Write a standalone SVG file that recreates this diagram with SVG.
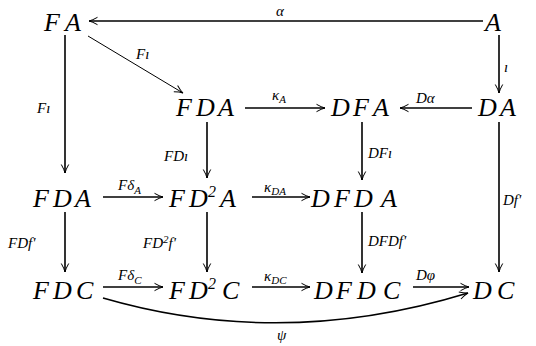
<svg xmlns="http://www.w3.org/2000/svg" width="536" height="346" viewBox="0 0 536 346">
<defs>
<marker id="ah" markerUnits="userSpaceOnUse" markerWidth="14" markerHeight="10" refX="10" refY="5" orient="auto" overflow="visible">
<path d="M1.5,1.3 Q6.5,4.2 10,5 Q6.5,5.8 1.5,8.7" fill="none" stroke="#000" stroke-width="1"/>
</marker>
</defs>
<rect width="536" height="346" fill="#fff"/>
<g id="n-FA"><text style="font-family:'Liberation Serif',serif !important;font-style:italic !important;font-size:26px" x="44 65" y="31">FA</text></g>
<g id="n-A"><text style="font-family:'Liberation Serif',serif !important;font-style:italic !important;font-size:26px" x="485" y="31">A</text></g>
<g id="n-FDA1"><text style="font-family:'Liberation Serif',serif !important;font-style:italic !important;font-size:26px" x="176 196 218" y="116">FDA</text></g>
<g id="n-DFA"><text style="font-family:'Liberation Serif',serif !important;font-style:italic !important;font-size:26px" x="331 353 373" y="116">DFA</text></g>
<g id="n-DA"><text style="font-family:'Liberation Serif',serif !important;font-style:italic !important;font-size:26px" x="478 500" y="116">DA</text></g>
<g id="n-FDA2"><text style="font-family:'Liberation Serif',serif !important;font-style:italic !important;font-size:26px" x="33 53 75" y="207">FDA</text></g>
<g id="n-FD2A"><text style="font-family:'Liberation Serif',serif !important;font-style:italic !important;font-size:26px" y="207"><tspan x="169 189">FD</tspan><tspan style="font-size:16px" x="208" y="197">2</tspan><tspan x="220" y="207">A</tspan></text></g>
<g id="n-DFDA"><text style="font-family:'Liberation Serif',serif !important;font-style:italic !important;font-size:26px" x="311 334 354 381" y="207">DFDA</text></g>
<g id="n-FDC"><text style="font-family:'Liberation Serif',serif !important;font-style:italic !important;font-size:26px" x="33 53 76" y="299">FDC</text></g>
<g id="n-FD2C"><text style="font-family:'Liberation Serif',serif !important;font-style:italic !important;font-size:26px" y="299"><tspan x="169 189">FD</tspan><tspan style="font-size:16px" x="208" y="289">2</tspan><tspan x="222" y="299">C</tspan></text></g>
<g id="n-DFDC"><text style="font-family:'Liberation Serif',serif !important;font-style:italic !important;font-size:26px" x="314 336 357 383" y="299">DFDC</text></g>
<g id="n-DC"><text style="font-family:'Liberation Serif',serif !important;font-style:italic !important;font-size:26px" x="473 497" y="299">DC</text></g>
<g id="connectors" fill="none" stroke="#000" stroke-width="1.6" marker-end="url(#ah)">
<path d="M483,21 L89,21"/>
<path stroke-width="1" d="M88,36 L183,93"/>
<path d="M499,35 L499,93"/>
<path d="M245,108 L325,108"/>
<path d="M472,108 L400,108"/>
<path d="M65,35 L65,173"/>
<path d="M207,122 L207,178"/>
<path d="M362,122 L362,180"/>
<path d="M499,122 L499,272"/>
<path d="M103,197 L163,197"/>
<path d="M252,197 L310,197"/>
<path d="M65,212 L65,272"/>
<path d="M207,212 L207,272"/>
<path d="M362,212 L362,273"/>
<path d="M103,287 L163,287"/>
<path d="M252,287 L310,287"/>
<path d="M413,287 L469,287"/>
<path d="M103,298 Q282,350 468,293"/>
</g>
<g id="labels">
<text style="font-family:'Liberation Serif',serif !important;font-style:italic !important;font-size:15px" x="276" y="16">α</text>
<text style="font-family:'Liberation Serif',serif !important;font-style:italic !important;font-size:15px" x="136" y="59">Fı</text>
<text style="font-family:'Liberation Serif',serif !important;font-style:italic !important;font-size:15px" x="504" y="72">ı</text>
<text style="font-family:'Liberation Serif',serif !important;font-style:italic !important;font-size:15px" x="37" y="113">Fı</text>
<text style="font-family:'Liberation Serif',serif !important;font-style:italic !important;font-size:15px" x="272" y="100">κ<tspan style="font-size:11px" dy="3">A</tspan></text>
<text style="font-family:'Liberation Serif',serif !important;font-style:italic !important;font-size:15px" x="416" y="103">Dα</text>
<text style="font-family:'Liberation Serif',serif !important;font-style:italic !important;font-size:15px" x="164" y="161">FDı</text>
<text style="font-family:'Liberation Serif',serif !important;font-style:italic !important;font-size:15px" x="368" y="158">DFı</text>
<text style="font-family:'Liberation Serif',serif !important;font-style:italic !important;font-size:15px" x="118" y="190">Fδ<tspan style="font-size:11px" dy="4">A</tspan></text>
<text style="font-family:'Liberation Serif',serif !important;font-style:italic !important;font-size:15px" x="264" y="192">κ<tspan style="font-size:11px" dy="3">DA</tspan></text>
<text style="font-family:'Liberation Serif',serif !important;font-style:italic !important;font-size:15px" x="503" y="205">Df'</text>
<text style="font-family:'Liberation Serif',serif !important;font-style:italic !important;font-size:15px" x="8" y="248">FDf'</text>
<text style="font-family:'Liberation Serif',serif !important;font-style:italic !important;font-size:15px" x="143" y="248">FD<tspan style="font-size:11px" dy="-5">2</tspan><tspan dy="5">f'</tspan></text>
<text style="font-family:'Liberation Serif',serif !important;font-style:italic !important;font-size:15px" x="368" y="246">DFDf'</text>
<text style="font-family:'Liberation Serif',serif !important;font-style:italic !important;font-size:15px" x="118" y="280">Fδ<tspan style="font-size:11px" dy="4">C</tspan></text>
<text style="font-family:'Liberation Serif',serif !important;font-style:italic !important;font-size:15px" x="264" y="281">κ<tspan style="font-size:11px" dy="3">DC</tspan></text>
<text style="font-family:'Liberation Serif',serif !important;font-style:italic !important;font-size:15px" x="416" y="280">Dφ</text>
<text style="font-family:'Liberation Serif',serif !important;font-style:italic !important;font-size:15px" x="277" y="340">ψ</text>
</g>
</svg>
